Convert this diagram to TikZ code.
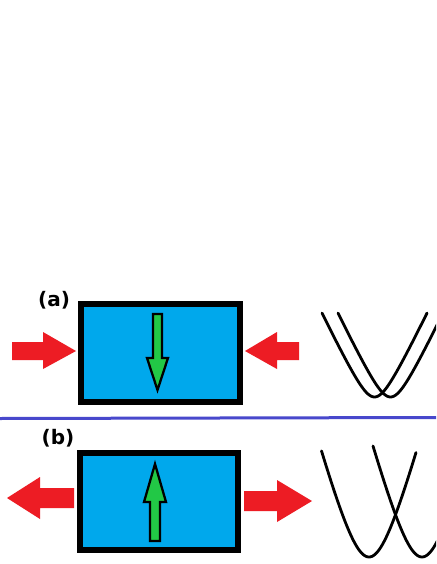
\documentclass[tikz,border=0pt]{standalone}
\usepackage{fontspec}
\setmainfont{DejaVu Sans}
\definecolor{boxblue}{RGB}{0,168,236}
\definecolor{arrred}{RGB}{237,28,36}
\definecolor{arrgreen}{RGB}{34,200,70}
\definecolor{linblue}{RGB}{72,72,204}
\tikzset{
  panelbox/.style={draw=black,line width=6.5pt,fill=boxblue},
  redarrow/.style={fill=arrred,draw=none},
  greenarrow/.style={fill=arrgreen,draw=black,line width=2.3pt,line join=miter},
  curve/.style={draw=black,line width=2.8pt,line cap=round},
  lab/.style={font=\fontsize{20}{20}\selectfont\bfseries,inner sep=0pt}
}
\begin{document}
\begin{tikzpicture}[x=1pt,y=-1pt]
\useasboundingbox (0,0) rectangle (436,564);
\clip (0,0) rectangle (436,564);
\fill[white] (0,0) rectangle (436,564);
% ---- panel (a)
\node[lab] (la) at (54,300) {(a)};
\draw[panelbox] (81,304) rectangle (240,402);
\draw[greenarrow] (153,314) -- (162,314) -- (162,358) -- (168,358) -- (157.5,390) -- (147,358) -- (153,358) -- cycle;
\fill[redarrow] (12,342) -- (43,342) -- (43,332) -- (76,351) -- (43,369) -- (43,360) -- (12,360) -- cycle;
\fill[redarrow] (299,342) -- (277,342) -- (277,332) -- (245,351) -- (277,369) -- (277,360) -- (299,360) -- cycle;
\draw[curve] plot[domain=-52.5:52.5,samples=80] ({374.5+\x},{397-2.08*(sqrt(196+\x*\x)-14)});
\draw[curve] plot[domain=-52.5:52.5,samples=80] ({390.5+\x},{397-2.08*(sqrt(196+\x*\x)-14)});
% ---- separator
\draw[linblue,line width=3pt] (0,418.5) -- (436,417.5);
% ---- panel (b)
\node[lab] (lb) at (58,438) {(b)};
\draw[panelbox] (80,453) rectangle (238,550);
\draw[greenarrow] (150,541) -- (160,541) -- (160,502) -- (166,502) -- (155,464) -- (144,502) -- (150,502) -- cycle;
\fill[redarrow] (74,488) -- (40,488) -- (40,477) -- (7,498) -- (40,519) -- (40,508) -- (74,508) -- cycle;
\fill[redarrow] (244,491) -- (277,491) -- (277,480) -- (312,501) -- (277,522) -- (277,511) -- (244,511) -- cycle;
\draw[curve] plot[domain=-47.5:47,samples=80] ({369+\x},{557-3.7*(sqrt(625+\x*\x)-25)});
\draw[curve] plot[domain=-49:60,samples=80] ({422+\x},{557-3.7*(sqrt(625+\x*\x)-25)});
\end{tikzpicture}
\end{document}
